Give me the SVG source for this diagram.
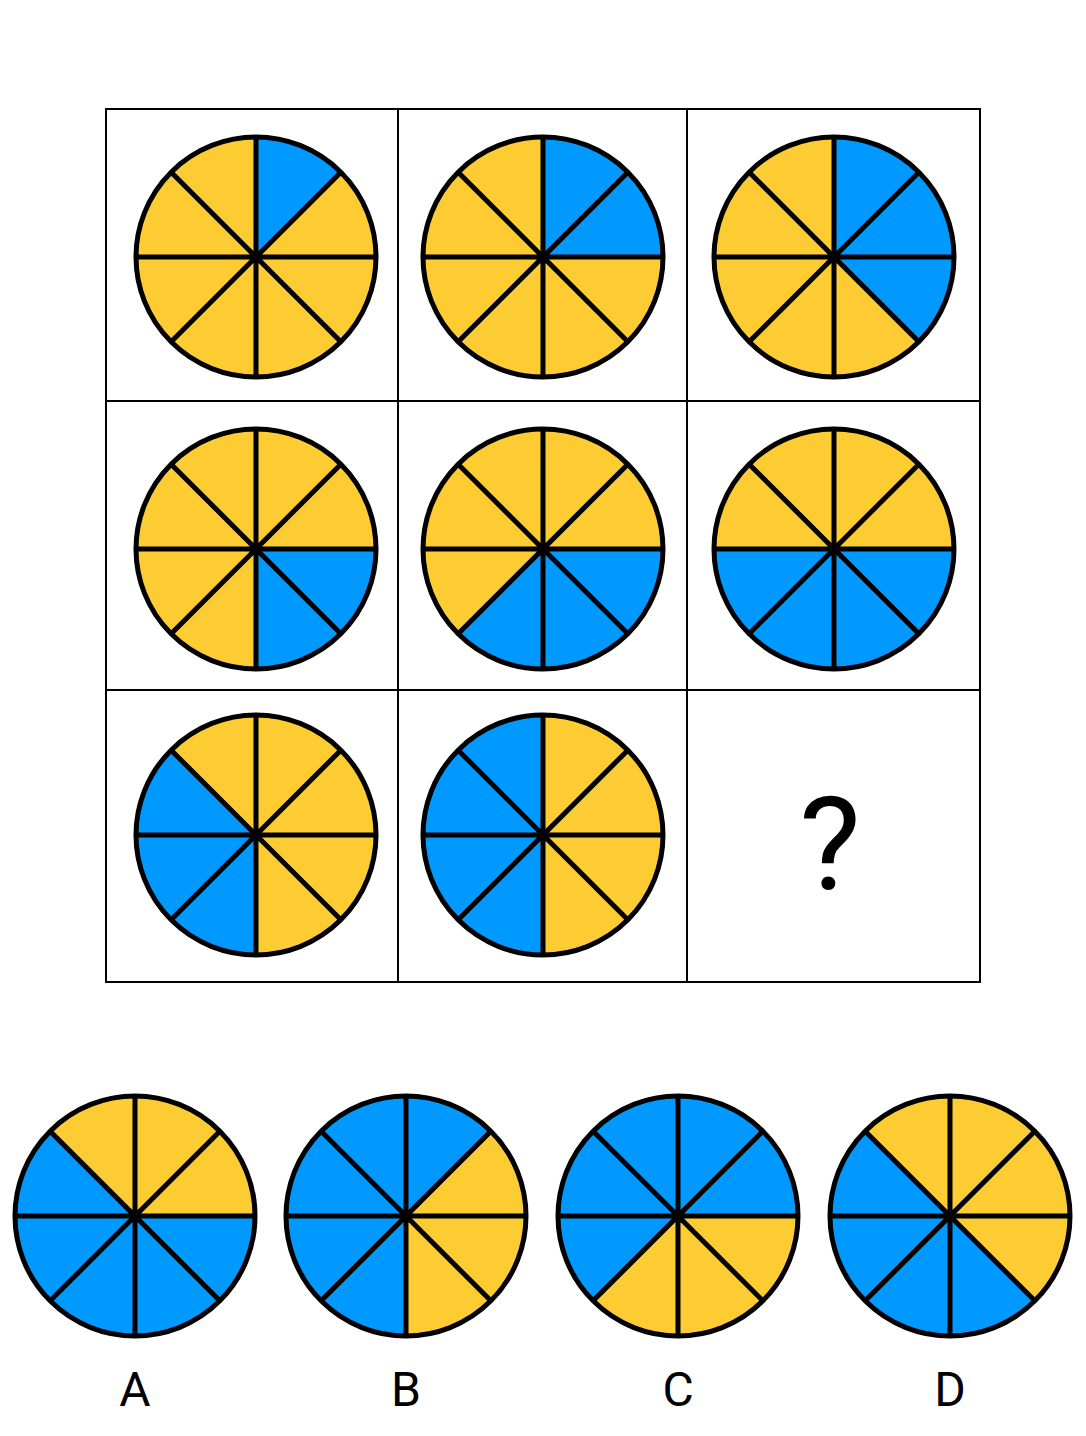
<svg xmlns="http://www.w3.org/2000/svg" xmlns:xlink="http://www.w3.org/1999/xlink" width="1086" height="1436" viewBox="0 0 1086 1436">
<style>
.y{fill:#FDCC33}
.b{fill:#0099FF}
.sp{fill:none;stroke:#000;stroke-width:5;stroke-linecap:butt}
.ol{fill:none;stroke:#000;stroke-width:5}
.grid{fill:none;stroke:#000;stroke-width:2}
.lbl{font-family:Roboto,"Liberation Sans",sans-serif;font-size:48px;fill:#000;text-anchor:middle}
</style>
<defs>
<path id="s1" d="M0,0 L0,-120 A120,120 0 0 1 84.85,-84.85 Z"/>
<path id="s2" d="M0,0 L84.85,-84.85 A120,120 0 0 1 120,0 Z"/>
<path id="s3" d="M0,0 L120,0 A120,120 0 0 1 84.85,84.85 Z"/>
<path id="s4" d="M0,0 L84.85,84.85 A120,120 0 0 1 0,120 Z"/>
<path id="s5" d="M0,0 L0,120 A120,120 0 0 1 -84.85,84.85 Z"/>
<path id="s6" d="M0,0 L-84.85,84.85 A120,120 0 0 1 -120,0 Z"/>
<path id="s7" d="M0,0 L-120,0 A120,120 0 0 1 -84.85,-84.85 Z"/>
<path id="s8" d="M0,0 L-84.85,-84.85 A120,120 0 0 1 0,-120 Z"/>
<g id="frame">
<path class="sp" d="M0,-120 V120 M-120,0 H120 M-84.85,-84.85 L84.85,84.85 M84.85,-84.85 L-84.85,84.85"/>
<circle class="ol" r="120"/>
</g>
</defs>
<rect width="1086" height="1436" fill="#fff"/>
<g id="grid">
<rect class="grid" x="106" y="109" width="874" height="873"/>
<line class="grid" x1="398" y1="109" x2="398" y2="982"/>
<line class="grid" x1="687" y1="109" x2="687" y2="982"/>
<line class="grid" x1="106" y1="401" x2="980" y2="401"/>
<line class="grid" x1="106" y1="690" x2="980" y2="690"/>
</g>
<g id="r1c1" transform="translate(256,257)">
<use href="#s1" class="b"/><use href="#s2" class="y"/><use href="#s3" class="y"/><use href="#s4" class="y"/><use href="#s5" class="y"/><use href="#s6" class="y"/><use href="#s7" class="y"/><use href="#s8" class="y"/><use href="#frame"/>
</g>
<g id="r1c2" transform="translate(543,257)">
<use href="#s1" class="b"/><use href="#s2" class="b"/><use href="#s3" class="y"/><use href="#s4" class="y"/><use href="#s5" class="y"/><use href="#s6" class="y"/><use href="#s7" class="y"/><use href="#s8" class="y"/><use href="#frame"/>
</g>
<g id="r1c3" transform="translate(834,257)">
<use href="#s1" class="b"/><use href="#s2" class="b"/><use href="#s3" class="b"/><use href="#s4" class="y"/><use href="#s5" class="y"/><use href="#s6" class="y"/><use href="#s7" class="y"/><use href="#s8" class="y"/><use href="#frame"/>
</g>
<g id="r2c1" transform="translate(256,549)">
<use href="#s1" class="y"/><use href="#s2" class="y"/><use href="#s3" class="b"/><use href="#s4" class="b"/><use href="#s5" class="y"/><use href="#s6" class="y"/><use href="#s7" class="y"/><use href="#s8" class="y"/><use href="#frame"/>
</g>
<g id="r2c2" transform="translate(543,549)">
<use href="#s1" class="y"/><use href="#s2" class="y"/><use href="#s3" class="b"/><use href="#s4" class="b"/><use href="#s5" class="b"/><use href="#s6" class="y"/><use href="#s7" class="y"/><use href="#s8" class="y"/><use href="#frame"/>
</g>
<g id="r2c3" transform="translate(834,549)">
<use href="#s1" class="y"/><use href="#s2" class="y"/><use href="#s3" class="b"/><use href="#s4" class="b"/><use href="#s5" class="b"/><use href="#s6" class="b"/><use href="#s7" class="y"/><use href="#s8" class="y"/><use href="#frame"/>
</g>
<g id="r3c1" transform="translate(256,835)">
<use href="#s1" class="y"/><use href="#s2" class="y"/><use href="#s3" class="y"/><use href="#s4" class="y"/><use href="#s5" class="b"/><use href="#s6" class="b"/><use href="#s7" class="b"/><use href="#s8" class="y"/><use href="#frame"/>
</g>
<g id="r3c2" transform="translate(543,835)">
<use href="#s1" class="y"/><use href="#s2" class="y"/><use href="#s3" class="y"/><use href="#s4" class="y"/><use href="#s5" class="b"/><use href="#s6" class="b"/><use href="#s7" class="b"/><use href="#s8" class="b"/><use href="#frame"/>
</g>
<g id="r3c3">
<text x="830" y="889" font-family="Roboto,'Liberation Sans',sans-serif" font-size="130" text-anchor="middle" fill="#000">?</text>
</g>
<g id="optA" transform="translate(135,1216)">
<use href="#s1" class="y"/><use href="#s2" class="y"/><use href="#s3" class="b"/><use href="#s4" class="b"/><use href="#s5" class="b"/><use href="#s6" class="b"/><use href="#s7" class="b"/><use href="#s8" class="y"/><use href="#frame"/>
</g>
<g id="optB" transform="translate(406,1216)">
<use href="#s1" class="b"/><use href="#s2" class="y"/><use href="#s3" class="y"/><use href="#s4" class="y"/><use href="#s5" class="b"/><use href="#s6" class="b"/><use href="#s7" class="b"/><use href="#s8" class="b"/><use href="#frame"/>
</g>
<g id="optC" transform="translate(678,1216)">
<use href="#s1" class="b"/><use href="#s2" class="b"/><use href="#s3" class="y"/><use href="#s4" class="y"/><use href="#s5" class="y"/><use href="#s6" class="b"/><use href="#s7" class="b"/><use href="#s8" class="b"/><use href="#frame"/>
</g>
<g id="optD" transform="translate(950,1216)">
<use href="#s1" class="y"/><use href="#s2" class="y"/><use href="#s3" class="y"/><use href="#s4" class="b"/><use href="#s5" class="b"/><use href="#s6" class="b"/><use href="#s7" class="b"/><use href="#s8" class="y"/><use href="#frame"/>
</g>
<g id="labels">
<text class="lbl" x="135" y="1406">A</text>
<text class="lbl" x="406" y="1406">B</text>
<text class="lbl" x="678" y="1406">C</text>
<text class="lbl" x="950" y="1406">D</text>
</g>
</svg>
